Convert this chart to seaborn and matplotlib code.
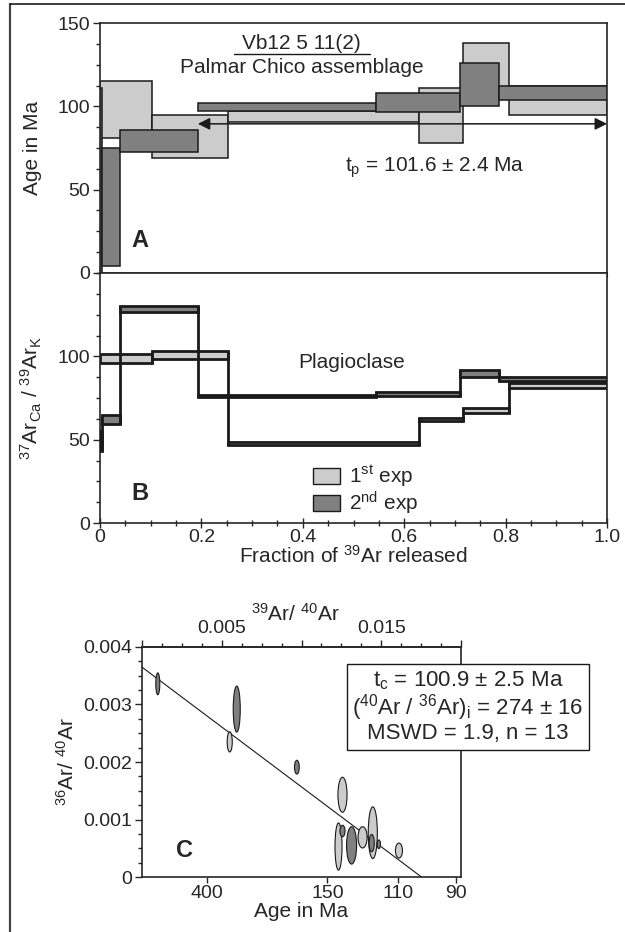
import numpy as np
import matplotlib
matplotlib.use("Agg")
import matplotlib.pyplot as plt
from matplotlib.patches import Rectangle, Ellipse, Patch
from matplotlib.lines import Line2D
from matplotlib.ticker import MultipleLocator, FixedLocator
import seaborn as sns

# %% step heating data (fraction of 39Ar released = step boundaries)
frac_1st = [0.0, 0.103, 0.252, 0.63, 0.716, 0.807, 1.0]
frac_2nd = [0.0, 0.004, 0.04, 0.193, 0.545, 0.71, 0.787, 1.0]

# A: apparent age boxes, Ma
age_lo_1st = [81, 69, 90.5, 78, 106, 95]
age_hi_1st = [115, 95, 97, 111, 138, 112]
age_lo_2nd = [0, 4, 72.5, 97.2, 96.5, 100, 104]
age_hi_2nd = [111, 75, 86, 102.2, 108, 126, 112]

# B: 37ArCa/39ArK boxes
cak_lo_1st = [96, 98.7, 47, 61, 66.3, 81]
cak_hi_1st = [101.7, 103, 48.5, 63, 69, 84]
cak_lo_2nd = [43, 59.5, 126.4, 75.5, 76.2, 87.7, 85]
cak_hi_2nd = [55, 65, 130.4, 76.8, 78.8, 92, 87.5]

plateau_start = 0.193
plateau_level = 89.5

# C: inverse isochron error ellipses
iso_x = [0.00099, 0.00594, 0.0055, 0.00971, 0.01257, 0.01232, 0.01257,
         0.01314, 0.01383, 0.01447, 0.0144, 0.01485, 0.01611]
iso_y = [0.00336, 0.00292, 0.00235, 0.00191, 0.00143, 0.00053, 0.0008,
         0.00055, 0.00069, 0.00077, 0.00059, 0.00057, 0.00046]
iso_w = [0.00025, 0.00044, 0.00032, 0.0003, 0.00057, 0.00044, 0.00032,
         0.00063, 0.00057, 0.00057, 0.00032, 0.0002, 0.00044]
iso_h = [0.00038, 0.0008, 0.00035, 0.00024, 0.00061, 0.00082, 0.0002,
         0.00065, 0.00037, 0.0009, 0.0003, 0.00015, 0.00026]
iso_exp = ["2nd", "2nd", "1st", "2nd", "1st", "1st", "2nd",
           "2nd", "1st", "1st", "2nd", "2nd", "1st"]

iso_age = 100.9
iso_ratio = 274
J = 0.001008
lam = 5.543e-4  # 1/Ma
age_ticks = [400, 150, 110, 90]

# %% style
sns.set_theme(style="ticks")
plt.rcParams["font.family"] = ["Liberation Sans", "DejaVu Sans"]
plt.rcParams["mathtext.fontset"] = "custom"
plt.rcParams["mathtext.rm"] = "Liberation Sans"
plt.rcParams["mathtext.it"] = "Liberation Sans:italic"
plt.rcParams["mathtext.bf"] = "Liberation Sans:bold"
plt.rcParams["axes.linewidth"] = 1.2

light = "#cccccc"
dark = "#808080"
colors = {"1st": light, "2nd": dark}
TICK = 14
LAB = 15


def draw_boxes(ax, edges, lo, hi, color, lw, z, connect=False):
    for i in range(len(lo)):
        ax.add_patch(Rectangle((edges[i], lo[i]), edges[i + 1] - edges[i], hi[i] - lo[i],
                               fc=color, ec="k", lw=lw, zorder=z))
        if connect and i < len(lo) - 1:
            ax.vlines(edges[i + 1], min(lo[i], lo[i + 1]), max(hi[i], hi[i + 1]),
                      color="k", lw=lw, zorder=z)


fig = plt.figure(figsize=(6.25, 9.32), dpi=100)
axA = fig.add_axes([0.16, 0.7071, 0.8112, 0.2682])
axB = fig.add_axes([0.16, 0.4388, 0.8112, 0.2682])
axC = fig.add_axes([0.2272, 0.059, 0.5104, 0.2468])

# %% panel A
draw_boxes(axA, frac_1st, age_lo_1st, age_hi_1st, light, 1.1, 2)
draw_boxes(axA, frac_2nd, age_lo_2nd, age_hi_2nd, dark, 1.1, 3)
axA.annotate("", xy=(1.0, plateau_level), xytext=(plateau_start, plateau_level),
             arrowprops=dict(arrowstyle="<|-|>", color="k", lw=1.1, mutation_scale=18,
                             shrinkA=0, shrinkB=0), zorder=5)
axA.set_xlim(0, 1)
axA.set_ylim(0, 150)
axA.yaxis.set_major_locator(FixedLocator([0, 50, 100, 150]))
axA.yaxis.set_minor_locator(MultipleLocator(12.5))
axA.xaxis.set_major_locator(FixedLocator([0, 0.2, 0.4, 0.6, 0.8, 1.0]))
axA.xaxis.set_minor_locator(MultipleLocator(0.05))
axA.tick_params(axis="y", direction="out", length=5, width=1, labelsize=TICK, pad=2)
axA.tick_params(axis="y", which="minor", direction="out", length=3, width=1)
axA.tick_params(axis="x", which="both", direction="out", length=3, width=0.8, labelbottom=False)
axA.set_ylabel("Age in Ma", fontsize=LAB)
axA.yaxis.set_label_coords(-0.114, 0.5)
axA.text(0.398, 0.92, "Vb12 5 11(2)", transform=axA.transAxes, ha="center", va="center", fontsize=LAB)
axA.plot([0.265, 0.532], [0.877, 0.877], transform=axA.transAxes, color="k", lw=1)
axA.text(0.398, 0.824, "Palmar Chico assemblage", transform=axA.transAxes, ha="center",
         va="center", fontsize=LAB)
axA.text(0.661, 0.42, r"t$_{\mathrm{p}}$ = 101.6 ± 2.4 Ma", transform=axA.transAxes,
         ha="center", va="center", fontsize=LAB)
axA.text(0.079, 0.13, "A", transform=axA.transAxes, ha="center", va="center",
         fontsize=17, fontweight="bold")

# %% panel B
draw_boxes(axB, frac_1st, cak_lo_1st, cak_hi_1st, light, 2.0, 2, connect=True)
draw_boxes(axB, frac_2nd, cak_lo_2nd, cak_hi_2nd, dark, 2.0, 3, connect=True)
axB.set_xlim(0, 1)
axB.set_ylim(0, 150)
axB.yaxis.set_major_locator(FixedLocator([0, 50, 100]))
axB.yaxis.set_minor_locator(MultipleLocator(12.5))
axB.xaxis.set_major_locator(FixedLocator([0, 0.2, 0.4, 0.6, 0.8, 1.0]))
axB.xaxis.set_minor_locator(MultipleLocator(0.05))
axB.set_xticklabels(["0", "0.2", "0.4", "0.6", "0.8", "1.0"])
axB.tick_params(axis="y", direction="out", length=5, width=1, labelsize=TICK, pad=2)
axB.tick_params(axis="y", which="minor", direction="out", length=3, width=1)
axB.tick_params(axis="x", direction="inout", length=7, width=1, labelsize=TICK, pad=1)
axB.tick_params(axis="x", which="minor", direction="inout", length=5, width=1)
axB.set_ylabel(r"$^{37}$Ar$_{\mathrm{Ca}}$ / $^{39}$Ar$_{\mathrm{K}}$", fontsize=LAB)
axB.yaxis.set_label_coords(-0.11, 0.5)
axB.set_xlabel(r"Fraction of $^{39}$Ar released", fontsize=LAB, labelpad=-1)
axB.text(0.497, 0.644, "Plagioclase", transform=axB.transAxes, ha="center", va="center",
         fontsize=LAB)
axB.text(0.079, 0.12, "B", transform=axB.transAxes, ha="center", va="center",
         fontsize=17, fontweight="bold")
handles = [Patch(fc=light, ec="k", lw=1), Patch(fc=dark, ec="k", lw=1)]
axB.legend(handles, [r"1$^{\mathrm{st}}$ exp", r"2$^{\mathrm{nd}}$ exp"], loc="upper left",
           bbox_to_anchor=(0.4, 0.28), frameon=False, fontsize=LAB, handlelength=1.3,
           handleheight=0.8, handletextpad=0.4, labelspacing=0.05, borderpad=0)

# %% panel C
for want in ["1st", "2nd"]:
    for x, y, w, h, e in zip(iso_x, iso_y, iso_w, iso_h, iso_exp):
        if e == want:
            axC.add_patch(Ellipse((x, y), w, h, fc=colors[e], ec="k", lw=0.8,
                                  zorder=3 if e == "1st" else 4))
x_int = J / (np.exp(lam * iso_age) - 1)
sns.lineplot(x=[0, x_int], y=[1 / iso_ratio, 0], ax=axC, color="k", lw=0.8, zorder=2)
axC.set_xlim(0, 0.02)
axC.set_ylim(0, 0.004)
axC.yaxis.set_major_locator(FixedLocator([0, 0.001, 0.002, 0.003, 0.004]))
axC.yaxis.set_minor_locator(MultipleLocator(0.00025))
axC.set_yticklabels(["0", "0.001", "0.002", "0.003", "0.004"])
age_pos = [J / (np.exp(lam * a) - 1) for a in age_ticks]
axC.xaxis.set_major_locator(FixedLocator(age_pos))
axC.set_xticklabels([str(a) for a in age_ticks])
axC.tick_params(axis="y", direction="out", length=5, width=1, labelsize=TICK, pad=2)
axC.tick_params(axis="y", which="minor", direction="out", length=3, width=1)
axC.tick_params(axis="x", direction="out", length=4, width=1, labelsize=TICK, pad=2)
top = axC.secondary_xaxis("top")
top.xaxis.set_major_locator(FixedLocator([0, 0.005, 0.01, 0.015, 0.02]))
top.xaxis.set_minor_locator(MultipleLocator(0.00125))
top.set_xticklabels(["", "0.005", "", "0.015", ""])
top.tick_params(axis="x", direction="out", length=5, width=1, labelsize=TICK, pad=2)
top.tick_params(axis="x", which="minor", direction="out", length=3, width=1)
top.spines["top"].set_linewidth(1.2)
axC.set_ylabel(r"$^{36}$Ar/ $^{40}$Ar", fontsize=LAB)
axC.yaxis.set_label_coords(-0.2, 0.5)
axC.set_xlabel("Age in Ma", fontsize=LAB, labelpad=0)
axC.text(0.48, 1.145, r"$^{39}$Ar/ $^{40}$Ar", transform=axC.transAxes, ha="center",
         va="center", fontsize=LAB)
axC.text(0.132, 0.117, "C", transform=axC.transAxes, ha="center", va="center",
         fontsize=17, fontweight="bold")
axC.text(1.022, 0.739,
         "t$_{\\mathrm{c}}$ = 100.9 ± 2.5 Ma\n"
         "($^{40}$Ar / $^{36}$Ar)$_{\\mathrm{i}}$ = 274 ± 16\n"
         "MSWD = 1.9, n = 13",
         transform=axC.transAxes, ha="center", va="center", fontsize=16,
         multialignment="center", linespacing=1.0, zorder=6, clip_on=False,
         bbox=dict(boxstyle="square,pad=0.25", fc="white", ec="k", lw=1))

# outer frame (cropped on right and bottom)
fig.add_artist(Line2D([0.016, 0.016], [0, 0.9957], transform=fig.transFigure,
                      color="#444444", lw=1.6))
fig.add_artist(Line2D([0.016, 1.0], [0.9957, 0.9957], transform=fig.transFigure,
                      color="k", lw=1.2))

fig.savefig("out.png", dpi=100)
